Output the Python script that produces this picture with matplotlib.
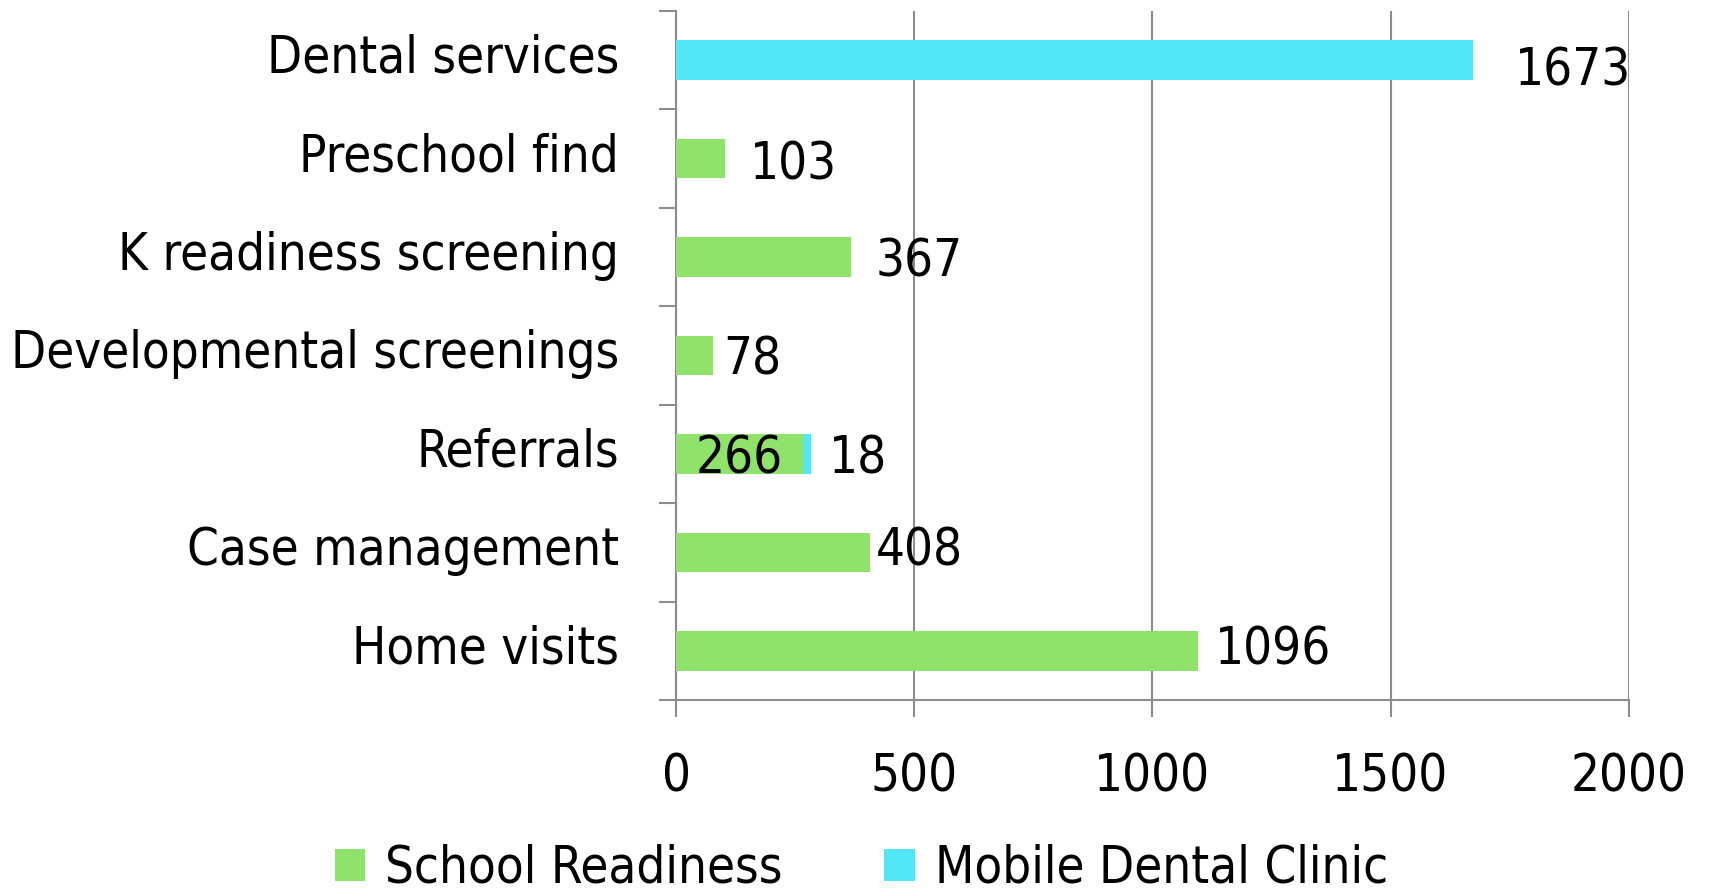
import numpy as np
import matplotlib
matplotlib.use("Agg")
import matplotlib.pyplot as plt
from matplotlib import font_manager
from matplotlib.transforms import ScaledTranslation

categories = ["Dental services", "Preschool find", "K readiness screening",
              "Developmental screenings", "Referrals", "Case management", "Home visits"]
school_readiness = [0, 103, 367, 78, 266, 408, 1096]
mobile_dental = [1673, 0, 0, 0, 18, 0, 0]

green = "#90E36A"
cyan = "#52E7F6"
grey = "#8c8c8c"

# the original uses a tall, narrow humanist face; condensed DejaVu is the closest
condensed = [f for f in font_manager.fontManager.ttflist
             if f.name == "DejaVu Sans" and f.stretch == "condensed" and f.style == "normal"]
if condensed:
    plt.rcParams["font.stretch"] = "condensed"
    fs = 36.5
else:
    fs = 32
plt.rcParams["font.family"] = "DejaVu Sans"

fig = plt.figure(figsize=(17.09, 8.92), dpi=100)
ax = fig.add_axes([0.3956, 0.215, 0.5574, 0.773])

y = np.arange(len(categories))
h = 0.4
ax.barh(y, school_readiness, height=h, color=green, label="School Readiness", zorder=3)
ax.barh(y, mobile_dental, height=h, left=school_readiness, color=cyan,
        label="Mobile Dental Clinic", zorder=3)

# value labels (offsets in points, roughly matching the original placement)
sr_off = {1: (18, -1), 2: (18, 0), 3: (7, 0), 5: (4, 4.5), 6: (12, 4.5)}
for i, v in enumerate(school_readiness):
    if v == 0:
        continue
    if i == 4:
        ax.text(v / 2, i, str(v), ha="center", va="center_baseline", fontsize=fs, zorder=4)
    else:
        ax.annotate(str(v), (v, i), xytext=sr_off[i], textcoords="offset points",
                    ha="left", va="center_baseline", fontsize=fs, zorder=4)
md_off = {0: (30, -4.5), 4: (13, 0)}
for i, v in enumerate(mobile_dental):
    if v == 0:
        continue
    end = school_readiness[i] + v
    ax.annotate(str(v), (end, i), xytext=md_off[i], textcoords="offset points",
                ha="left", va="center_baseline", fontsize=fs, zorder=4)

ax.set_xlim(0, 2000)
ax.set_ylim(len(categories) - 0.5, -0.5)
ax.set_xticks([0, 500, 1000, 1500, 2000])
ax.set_yticks(y)
ax.set_yticklabels(categories)
ax.set_yticks(np.arange(-0.5, len(categories)), minor=True)

ax.xaxis.grid(True, color=grey, linewidth=1.5, zorder=0)
ax.tick_params(axis="x", which="major", length=12, width=1.5, color=grey, pad=26, labelsize=fs)
ax.tick_params(axis="y", which="major", length=0, pad=41, labelsize=fs)
ax.tick_params(axis="y", which="minor", length=12, width=1.5, color=grey)

shift = ScaledTranslation(0, 5 / 72, fig.dpi_scale_trans)
for lab in ax.get_yticklabels():
    lab.set_transform(lab.get_transform() + shift)

for s in ["top", "right"]:
    ax.spines[s].set_visible(False)
for s in ["left", "bottom"]:
    ax.spines[s].set_color(grey)
    ax.spines[s].set_linewidth(1.5)

fig.legend(loc="center", bbox_to_anchor=(0.504, 0.026), ncol=2, frameon=False,
           fontsize=fs, handlelength=0.6, handleheight=0.6, handletextpad=0.4,
           columnspacing=2.0)

fig.savefig("out.png", dpi=100)
